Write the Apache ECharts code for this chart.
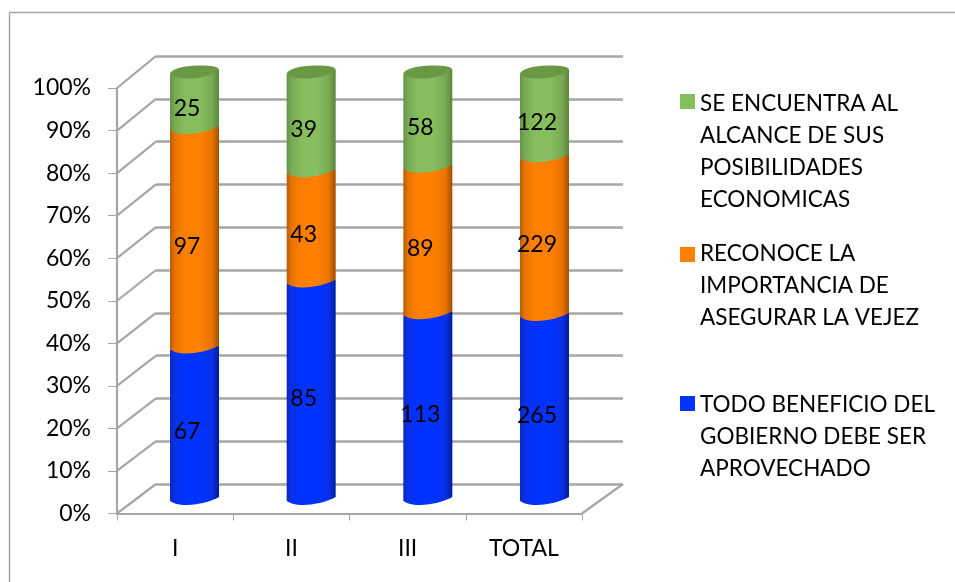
<!DOCTYPE html>
<html><head><meta charset="utf-8">
<style>html,body{margin:0;padding:0;background:#fff}#c{width:955px;height:582px}</style>
<script src="https://cdn.jsdelivr.net/npm/echarts@6/dist/echarts.min.js"></script>
</head><body><div id="c"></div>
<script>
const categories = ['I', 'II', 'III', 'TOTAL'];
const aprovechado = [67, 85, 113, 265];
const reconoce = [97, 43, 89, 229];
const alcance = [25, 39, 58, 122];
const tickValues = [0, 10, 20, 30, 40, 50, 60, 70, 80, 90, 100];
const nameBlue = 'TODO BENEFICIO DEL\nGOBIERNO DEBE SER\nAPROVECHADO';
const nameOrange = 'RECONOCE LA\nIMPORTANCIA DE\nASEGURAR LA VEJEZ';
const nameGreen = 'SE ENCUENTRA AL\nALCANCE DE SUS\nPOSIBILIDADES\nECONOMICAS';

const FONT = 'Lato';
const FS = 23;
const LEGEND_FS = 22.5;
const GRAY = '#a6a6a6';
const HALF = 24.5;

function ramp(dark, mid, bright, darkR) {
  return { type: 'linear', x: 0, y: 0, x2: 1, y2: 0, colorStops: [
    { offset: 0, color: dark }, { offset: 0.1, color: mid }, { offset: 0.3, color: bright },
    { offset: 0.62, color: bright }, { offset: 0.86, color: mid }, { offset: 1, color: darkR }
  ]};
}
const fills = {
  blue: ramp('#0a28c4', '#0830e8', '#0033ff', '#001c9c'),
  orange: ramp('#b85c00', '#e87400', '#ff8000', '#a04e00'),
  green: ramp('#65934a', '#78aa54', '#86bd5e', '#5a853c')
};

const totals = categories.map((_, i) => aprovechado[i] + reconoce[i] + alcance[i]);
function stackRows(vals, below) {
  return vals.map((v, i) => {
    const s = below.reduce((a, b) => a + b[i], 0);
    return [i, s / totals[i] * 100, (s + v) / totals[i] * 100, v];
  });
}

function cylinder(fill, isTop) {
  return function (params, api) {
    const i = api.value(0);
    const pb = api.coord([i, api.value(1)]);
    const pt = api.coord([i, api.value(2)]);
    const x0 = pb[0] - HALF, x1 = pb[0] + HALF, yb = pb[1], yt = pt[1];
    const body = 'M' + x0 + ' ' + (yt + 2) + 'L' + x1 + ' ' + (yt - 2) + 'L' + x1 + ' ' + (yb - 2) +
      'C' + (x1 - 8) + ' ' + (yb + 3) + ' ' + (x1 - 24) + ' ' + (yb + 6) + ' ' + (x0 + 17) + ' ' + (yb + 6) +
      'C' + (x0 + 8) + ' ' + (yb + 6) + ' ' + (x0 + 2) + ' ' + (yb + 4) + ' ' + x0 + ' ' + (yb + 1.5) + 'Z';
    const children = [{
      type: 'path', silent: true,
      shape: { pathData: body, x: x0, y: yt - 2, width: x1 - x0, height: yb - yt + 8, layout: 'none' },
      style: { fill: fill }
    }];
    if (isTop) {
      const cap = 'M' + x0 + ' ' + (yt + 2) +
        'C' + (x0 + 2) + ' ' + (yt - 2) + ' ' + (x0 + 14) + ' ' + (yt - 5.5) + ' ' + (x0 + 28) + ' ' + (yt - 5.5) +
        'C' + (x1 - 6) + ' ' + (yt - 5.5) + ' ' + (x1 - 1) + ' ' + (yt - 4) + ' ' + x1 + ' ' + (yt - 2) +
        'C' + (x1 - 3) + ' ' + (yt + 2) + ' ' + (x1 - 15) + ' ' + (yt + 7) + ' ' + (x0 + 16) + ' ' + (yt + 7) +
        'C' + (x0 + 8) + ' ' + (yt + 7) + ' ' + (x0 + 2) + ' ' + (yt + 5) + ' ' + x0 + ' ' + (yt + 2) + 'Z';
      children.push({
        type: 'path', silent: true,
        shape: { pathData: cap, x: x0, y: yt - 6, width: x1 - x0, height: 13, layout: 'none' },
        style: { fill: '#6a9845' }
      });
    }
    children.push({
      type: 'text', silent: true,
      style: {
        x: pb[0] - 7.5, y: (yb + yt) / 2 + 8.5, text: String(api.value(3)),
        fill: '#000', font: FS + 'px ' + FONT, align: 'center', verticalAlign: 'middle'
      }
    });
    return { type: 'group', children: children };
  };
}

function depthLines(params, api) {
  const cs = params.coordSys;
  const v = api.value(0);
  const p = api.coord([0, v]);
  const x = cs.x;
  const dy = 29.5 + 2.5 * v / 100;
  return {
    type: 'line', silent: true,
    shape: { x1: x, y1: p[1], x2: x + 39, y2: p[1] - dy },
    style: { stroke: GRAY, lineWidth: 2.2 }
  };
}
function sideLine(params, api) {
  const cs = params.coordSys;
  const y = cs.y + cs.height;
  return {
    type: 'line', silent: true,
    shape: { x1: cs.x + cs.width, y1: y, x2: cs.x + cs.width + 41, y2: y - 29.5 },
    style: { stroke: GRAY, lineWidth: 2.2 }
  };
}

function legendOf(name, top, h, off) {
  return {
    left: 680, top: top, orient: 'vertical', selectedMode: false, data: [name],
    itemWidth: 15, itemHeight: h,
    icon: 'path://M0 0h.01v.01h-.01zM0 ' + off + 'h15v15h-15zM0 ' + h + 'h.01v-.01h-.01z',
    padding: 0,
    textStyle: { fontFamily: FONT, fontSize: LEGEND_FS, color: '#000', lineHeight: 32 }
  };
}

const chart = echarts.init(document.getElementById('c'), null, { renderer: 'canvas' });
chart.setOption({
  animation: false,
  backgroundColor: '#fff',
  graphic: [
    { type: 'line', silent: true, shape: { x1: 9.5, y1: 12.5, x2: 955, y2: 12.5 }, style: { stroke: '#a6a6a6', lineWidth: 1.5 } },
    { type: 'line', silent: true, shape: { x1: 9.5, y1: 12.5, x2: 9.5, y2: 582 }, style: { stroke: '#a6a6a6', lineWidth: 1.5 } }
  ],
  grid: [
    { left: 117, right: 373, top: 88, bottom: 68.5 },
    { left: 156, right: 332, top: 56, bottom: 98 },
    { left: 136.2, right: 352.2, top: 71.5, bottom: 83 }
  ],
  legend: [
    legendOf(nameGreen, 88, 128, 6),
    legendOf(nameOrange, 238, 96, 9),
    legendOf(nameBlue, 389, 96, 7)
  ],
  xAxis: [
    { gridIndex: 0, type: 'category', data: categories, boundaryGap: true,
      axisLine: { show: true, lineStyle: { color: GRAY, width: 2.2 } },
      axisTick: { show: true, length: 7, alignWithLabel: false, lineStyle: { color: GRAY, width: 1 } },
      axisLabel: { margin: 24, fontFamily: FONT, fontSize: FS, color: '#000' } },
    { gridIndex: 1, type: 'category', data: categories, show: false },
    { gridIndex: 2, type: 'category', data: categories, show: false }
  ],
  yAxis: [
    { gridIndex: 0, type: 'value', min: 0, max: 100, interval: 10, splitLine: { show: false },
      axisLine: { show: true, lineStyle: { color: GRAY, width: 2.2 } },
      axisTick: { show: true, length: 9, lineStyle: { color: GRAY, width: 1 } },
      axisLabel: { margin: 26, padding: [3, 0, 0, 0], formatter: '{value}%', fontFamily: FONT, fontSize: FS, color: '#000' } },
    { gridIndex: 1, type: 'value', min: 0, max: 100, interval: 10,
      axisLine: { show: false }, axisTick: { show: false }, axisLabel: { show: false },
      splitLine: { show: true, lineStyle: { color: GRAY, width: 2.5 } } },
    { gridIndex: 2, type: 'value', min: 0, max: 100, interval: 10, show: false, splitLine: { show: false } }
  ],
  series: [
    { type: 'custom', name: 'depth', xAxisIndex: 0, yAxisIndex: 0, silent: true, z: 1,
      data: tickValues.map(v => [v]), encode: { y: 0 }, renderItem: depthLines },
    { type: 'custom', name: 'side', xAxisIndex: 0, yAxisIndex: 0, silent: true, z: 1,
      data: [[0]], encode: { y: 0 }, renderItem: sideLine },
    { type: 'custom', name: nameBlue, xAxisIndex: 2, yAxisIndex: 2, silent: true, z: 3,
      itemStyle: { color: '#0033ff' }, encode: { x: 0, y: 2 },
      data: stackRows(aprovechado, []), renderItem: cylinder(fills.blue, false) },
    { type: 'custom', name: nameOrange, xAxisIndex: 2, yAxisIndex: 2, silent: true, z: 4,
      itemStyle: { color: '#ff8000' }, encode: { x: 0, y: 2 },
      data: stackRows(reconoce, [aprovechado]), renderItem: cylinder(fills.orange, false) },
    { type: 'custom', name: nameGreen, xAxisIndex: 2, yAxisIndex: 2, silent: true, z: 5,
      itemStyle: { color: '#86bd5e' }, encode: { x: 0, y: 2 },
      data: stackRows(alcance, [aprovechado, reconoce]), renderItem: cylinder(fills.green, true) }
  ]
});
</script></body></html>
